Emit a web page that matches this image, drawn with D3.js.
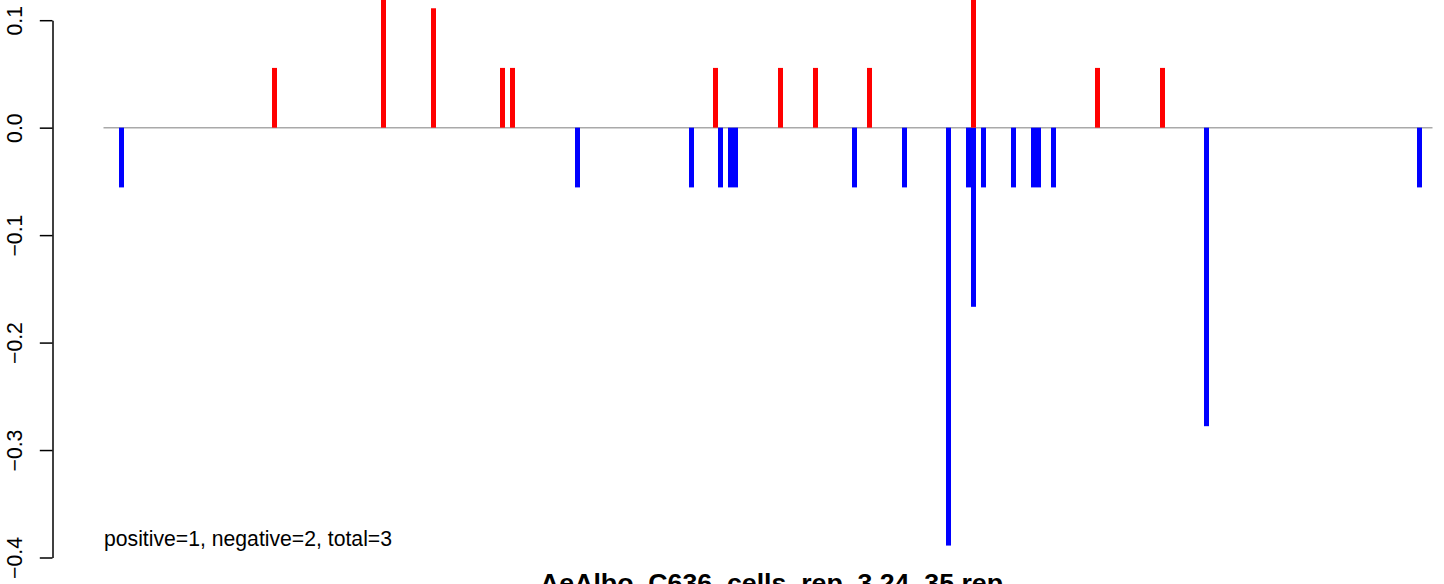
<!DOCTYPE html>
<html>
<head>
<meta charset="utf-8">
<script src="https://cdn.jsdelivr.net/npm/d3@7"></script>
<style>
  html, body { margin: 0; padding: 0; background: #ffffff; }
  svg { display: block; }
  text { font-family: "Liberation Sans", Arial, Helvetica, sans-serif; }
</style>
</head>
<body>
<div id="chart"></div>
<script>
// ---- data ----
const posPositions = [171, 280, 330, 399, 409, 612, 677, 712, 766, 870, 994, 1059];
const posValues    = [0.0556, 0.1667, 0.1111, 0.0556, 0.0556, 0.0556, 0.0556, 0.0556, 0.0556, 0.1667, 0.0556, 0.0556];
const negPositions = [18, 474, 588, 617, 627, 632, 751, 801, 845, 865, 870, 880, 910, 930, 935, 950, 1103, 1316];
const negValues    = [-0.0556, -0.0556, -0.0556, -0.0556, -0.0556, -0.0556, -0.0556, -0.0556, -0.3889, -0.0556, -0.1667, -0.0556, -0.0556, -0.0556, -0.0556, -0.0556, -0.2778, -0.0556];
const yTicks       = [0.1, 0.0, -0.1, -0.2, -0.3, -0.4];
const yTickLabels  = ["0.1", "0.0", "\u22120.1", "\u22120.2", "\u22120.3", "\u22120.4"];
const xDomain      = [0, 1329];
const yDomain      = [-0.4, 0.1];
const summaryText  = "positive=1, negative=2, total=3";
const titleText    = "AeAlbo_C636_cells_rep_3.24_35.rep";

// ---- layout ----
const W = 1444, H = 584;
const plotLeft = 103.5, plotRight = 1432.5;
const axisX = 52.5;

const svg = d3.select("#chart").append("svg")
  .attr("width", W).attr("height", H);

const x = d3.scaleLinear().domain(xDomain).range([plotLeft, plotRight]);
const y = d3.scaleLinear().domain(yDomain).range([557.5, 20.2]);

// zero line
svg.append("line")
  .attr("x1", plotLeft).attr("x2", plotRight)
  .attr("y1", y(0)).attr("y2", y(0))
  .attr("stroke", "#a9a9a9").attr("stroke-width", 1.5);

const barW = 5;
const pos = posPositions.map((p, i) => ({p, v: posValues[i]}));
const neg = negPositions.map((p, i) => ({p, v: negValues[i]}));

svg.append("g").selectAll("rect").data(neg).join("rect")
  .attr("x", d => x(d.p) - barW / 2)
  .attr("width", barW)
  .attr("y", y(0))
  .attr("height", d => y(d.v) - y(0))
  .attr("fill", "#0000ff");

svg.append("g").selectAll("rect").data(pos).join("rect")
  .attr("x", d => x(d.p) - barW / 2)
  .attr("width", barW)
  .attr("y", d => y(d.v))
  .attr("height", d => y(0) - y(d.v))
  .attr("fill", "#ff0000");

// y axis
const axis = d3.axisLeft(y)
  .tickValues(yTicks)
  .tickSize(12.7)
  .tickSizeOuter(0)
  .tickFormat((d, i) => yTickLabels[i]);

const gAxis = svg.append("g")
  .attr("transform", `translate(${axisX},0)`)
  .call(axis);
gAxis.select(".domain").attr("stroke", "#000").attr("stroke-width", 1.5);
gAxis.selectAll(".tick line").attr("stroke", "#000").attr("stroke-width", 1.5);
gAxis.selectAll(".tick text")
  .attr("x", null).attr("dy", null)
  .attr("transform", "translate(-30.5,0) rotate(-90)")
  .attr("text-anchor", "middle")
  .attr("fill", "#000")
  .style("font-size", "21.2px")
  .style("font-family", "'Liberation Sans', Arial, Helvetica, sans-serif");

// summary text
svg.append("text")
  .attr("x", 104).attr("y", 546)
  .attr("font-size", "21.2px")
  .attr("fill", "#000")
  .text(summaryText);

// title (cut at bottom)
svg.append("text")
  .attr("x", 771.5).attr("y", 592)
  .attr("text-anchor", "middle")
  .attr("font-size", "26.7px")
  .attr("font-weight", "bold")
  .attr("fill", "#000")
  .text(titleText);
</script>
</body>
</html>
